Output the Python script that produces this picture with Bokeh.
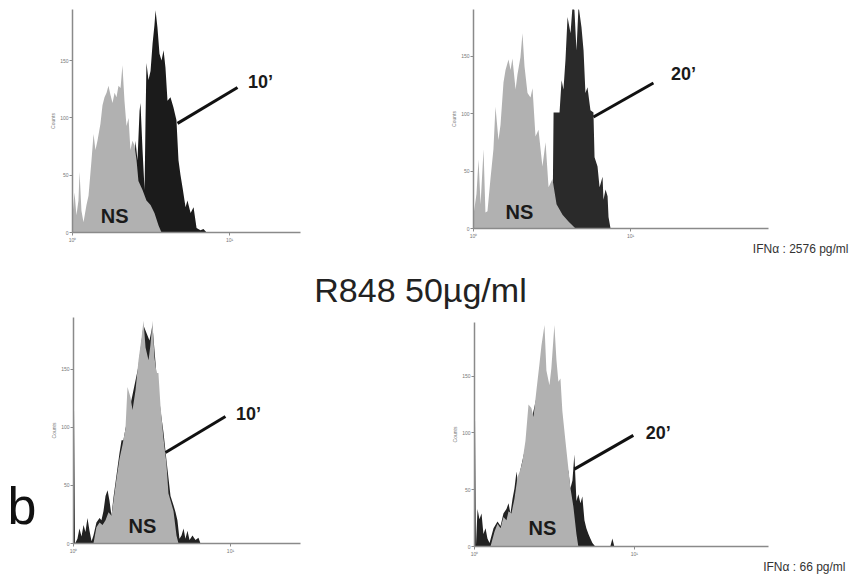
from bokeh.plotting import figure
from bokeh.layouts import column, row
from bokeh.models import FixedTicker, Label, ColumnDataSource
from bokeh.embed import file_html
from bokeh.resources import INLINE

# ---------------- data (x in log10 units of fluorescence, y = cell counts) ----------------
ns1_x = [0.000, 0.013, 0.025, 0.038, 0.045, 0.057, 0.070, 0.089, 0.102, 0.121, 0.134, 0.146, 0.159,
         0.178, 0.191, 0.204, 0.217, 0.229, 0.242, 0.255, 0.268, 0.280, 0.293, 0.306, 0.318, 0.331,
         0.344, 0.357, 0.369, 0.382, 0.395, 0.408, 0.420, 0.446, 0.471, 0.497, 0.522, 0.548, 0.567]
ns1_y = [15, 35, 15, 28, 53, 19, 9, 24, 32, 63, 86, 72, 80,
         95, 111, 118, 122, 128, 120, 113, 122, 118, 128, 126, 146, 115,
         93, 100, 72, 80, 76, 63, 45, 37, 28, 24, 17, 6, 0]
st1_x = [0.369, 0.382, 0.389, 0.401, 0.414, 0.427, 0.433, 0.446, 0.459, 0.465, 0.471, 0.484, 0.497,
         0.510, 0.522, 0.529, 0.541, 0.554, 0.567, 0.580, 0.592, 0.605, 0.624, 0.643, 0.662, 0.675,
         0.688, 0.701, 0.720, 0.732, 0.752, 0.771, 0.790, 0.815, 0.834, 0.854]
st1_y = [0, 28, 48, 80, 63, 106, 113, 72, 37, 98, 148, 133, 141,
         165, 181, 194, 179, 156, 150, 159, 144, 115, 118, 109, 98, 63,
         50, 39, 22, 28, 17, 22, 4, 2, 3, 0]

ns2_x = [0.000, 0.019, 0.032, 0.045, 0.064, 0.076, 0.089, 0.108, 0.127, 0.140, 0.159, 0.172, 0.191,
         0.204, 0.223, 0.236, 0.248, 0.268, 0.280, 0.299, 0.312, 0.325, 0.344, 0.363, 0.376, 0.395,
         0.414, 0.439, 0.459, 0.478, 0.503, 0.529, 0.567, 0.605, 0.650]
ns2_y = [12, 30, 60, 21, 69, 14, 15, 43, 69, 106, 77, 90, 127,
         138, 147, 138, 148, 121, 134, 149, 170, 141, 118, 114, 122, 80,
         86, 54, 75, 36, 43, 21, 12, 6, 0]
st2_x = [0.503, 0.510, 0.548, 0.561, 0.573, 0.586, 0.599, 0.618, 0.631, 0.643, 0.656, 0.669, 0.688,
         0.701, 0.713, 0.726, 0.745, 0.764, 0.771, 0.790, 0.803, 0.822, 0.828, 0.841, 0.854, 0.860, 0.873]
st2_y = [0, 101, 101, 129, 121, 147, 184, 170, 194, 190, 155, 194, 175,
         155, 118, 123, 103, 101, 62, 54, 36, 45, 25, 34, 28, 10, 0]

ns3_x = [0.127, 0.146, 0.166, 0.185, 0.204, 0.223, 0.242, 0.255, 0.274, 0.293, 0.312, 0.331, 0.344,
         0.363, 0.376, 0.395, 0.414, 0.433, 0.446, 0.459, 0.478, 0.490, 0.503, 0.516, 0.529, 0.541,
         0.554, 0.573, 0.592, 0.605, 0.618, 0.637, 0.656, 0.669]
ns3_y = [0, 14, 18, 16, 20, 27, 24, 37, 56, 73, 85, 99, 135,
         126, 115, 132, 158, 177, 192, 169, 158, 171, 192, 160, 147, 147,
         119, 91, 69, 43, 37, 28, 7, 0]
st3_x = [0.000, 0.010, 0.025, 0.038, 0.051, 0.064, 0.076, 0.089, 0.102, 0.115, 0.127, 0.146, 0.166,
         0.178, 0.191, 0.204, 0.217, 0.229, 0.242, 0.255, 0.274, 0.293, 0.306, 0.318, 0.331, 0.414,
         0.446, 0.484, 0.503, 0.529, 0.554, 0.573, 0.592, 0.618, 0.637, 0.650, 0.662, 0.675, 0.688,
         0.701, 0.713, 0.726, 0.739, 0.758, 0.777, 0.796, 0.809]
st3_y = [175, 0, 4, 13, 6, 16, 10, 22, 11, 2, 7, 18, 22,
         20, 28, 41, 46, 37, 24, 40, 59, 78, 89, 89, 99, 153,
         188, 175, 188, 145, 115, 96, 72, 41, 33, 27, 20, 4, 7,
         13, 4, 11, 3, 7, 3, 5, 0]

ns4_x = [0.100, 0.125, 0.144, 0.163, 0.181, 0.200, 0.213, 0.231, 0.250, 0.269, 0.288, 0.300, 0.319,
         0.338, 0.356, 0.369, 0.388, 0.406, 0.419, 0.438, 0.450, 0.469, 0.481, 0.500, 0.513, 0.525,
         0.538, 0.550, 0.569, 0.588, 0.600, 0.619, 0.638, 0.650]
ns4_y = [0, 13, 20, 16, 26, 23, 31, 29, 42, 61, 68, 75, 93,
         125, 122, 114, 138, 160, 177, 195, 155, 142, 157, 195, 164, 145,
         148, 119, 93, 68, 52, 35, 11, 0]
st4_x = [0.000, 0.009, 0.019, 0.031, 0.044, 0.056, 0.069, 0.081, 0.094, 0.119, 0.144, 0.163, 0.181,
         0.200, 0.213, 0.225, 0.238, 0.250, 0.263, 0.275, 0.288, 0.413, 0.475, 0.550, 0.575, 0.588,
         0.600, 0.613, 0.625, 0.638, 0.650, 0.663, 0.675, 0.688, 0.700, 0.713, 0.725, 0.738, 0.756,
         0.850, 0.863, 0.875]
st4_y = [177, 0, 33, 24, 29, 11, 16, 7, 3, 16, 22, 18, 29,
         33, 38, 29, 42, 51, 66, 51, 68, 147, 138, 112, 73, 66,
         51, 58, 81, 40, 46, 38, 44, 23, 16, 11, 7, 3, 0,
         0, 7, 0]

x_ticks = [0, 1]
x_tick_labels = {0: "10\u2070", 1: "10\u00b9"}
y_ticks = [0, 50, 100, 150]

GRAY = "#b1b1b1"
FONT = "Liberation Sans"


def panel(w, h, left, right, top, bottom, xmax, ymax):
    p = figure(width=w, height=h, x_range=(0, xmax), y_range=(0, ymax),
               min_border_left=left, min_border_right=right,
               min_border_top=top, min_border_bottom=bottom,
               output_backend="svg", toolbar_location=None)
    p.frame_align = False
    p.outline_line_color = None
    p.grid.grid_line_color = None
    p.xaxis.ticker = FixedTicker(ticks=x_ticks)
    p.xaxis.major_label_overrides = x_tick_labels
    p.yaxis.ticker = FixedTicker(ticks=y_ticks)
    p.yaxis.axis_label = "Counts"
    p.yaxis.axis_label_text_font_size = "5px"
    p.yaxis.axis_label_text_font_style = "normal"
    p.yaxis.axis_label_standoff = 1
    for ax in (p.xaxis, p.yaxis):
        ax.axis_line_color = "#8a8a8a"
        ax.axis_line_width = 1.5
        ax.major_tick_line_color = "#8a8a8a"
        ax.major_tick_out = 3
        ax.major_tick_in = 0
        ax.minor_tick_line_color = None
        ax.major_label_text_font_size = "5px"
        ax.major_label_text_color = "#777777"
        ax.major_label_standoff = 1
        ax.axis_label_text_color = "#777777"
    return p


def blank(w, h):
    p = figure(width=w, height=h, x_range=(0, w), y_range=(0, h), min_border=0,
               x_axis_location=None, y_axis_location=None, output_backend="svg",
               toolbar_location=None)
    p.frame_align = False
    p.outline_line_color = None
    p.grid.grid_line_color = None
    return p


def hist(p, xs, ys, color):
    src = ColumnDataSource(dict(x=xs, y=ys))
    p.varea(x="x", y1=0, y2="y", source=src, fill_color=color)


def note(p, x, y, txt, size, bold=True, align="center", baseline="middle", color="#1a1a1a"):
    p.add_layout(Label(x=x, y=y, text=txt, text_font=FONT, text_font_size=size,
                       text_font_style="bold" if bold else "normal",
                       text_align=align, text_baseline=baseline, text_color=color))


def pointer(p, xs, ys):
    p.line(xs, ys, line_color="#111111", line_width=3)


# ---- top left ----
p1 = panel(428, 266, 72, 128, 9, 34, 1.452, 194.6)
hist(p1, st1_x, st1_y, "#1b1b1b")
hist(p1, ns1_x, ns1_y, GRAY)
pointer(p1, [0.669, 1.051], [95.2, 126.6])
note(p1, 1.197, 131, "10\u2019", "18px")
note(p1, 0.268, 14.8, "NS", "20px")

# ---- top right ----
p2 = panel(434, 241, 45, 94, 9, 12, 1.879, 190.6)
hist(p2, st2_x, st2_y, "#2a2a2a")
hist(p2, ns2_x, ns2_y, GRAY)
pointer(p2, [0.764, 1.146], [97.1, 126.6])
note(p2, 1.338, 134.4, "20\u2019", "18px")
note(p2, 0.293, 14.7, "NS", "20px")
pi1 = blank(434, 25)
note(pi1, 420, 18, "IFN\u03b1 : 2576 pg/ml", "12px", bold=False, align="right", color="#333333")

# ---- middle title ----
pm = blank(862, 44)
note(pm, 420, 21, "R848 50\u00b5g/ml", "34px", bold=False, color="#222222")

# ---- bottom left ----
pb = blank(44, 266)
note(pb, 7, 71, "b", "52px", bold=False, align="left", color="#111111")
p3 = panel(384, 266, 29, 128, 7, 33, 1.446, 194.8)
hist(p3, st3_x, st3_y, "#222222")
hist(p3, ns3_x, ns3_y, GRAY)
pointer(p3, [0.586, 0.968], [78.4, 109.5])
note(p3, 1.115, 111.2, "10\u2019", "18px")
note(p3, 0.439, 15.5, "NS", "20px")

# ---- bottom right ----
p4 = panel(434, 249, 46, 94, 12, 11, 1.84, 197.2)
hist(p4, st4_x, st4_y, "#222222")
hist(p4, ns4_x, ns4_y, GRAY)
pointer(p4, [0.625, 0.994], [68.1, 97.8])
note(p4, 1.15, 99.5, "20\u2019", "18px")
note(p4, 0.425, 16.6, "NS", "20px")
pi2 = blank(434, 17)
note(pi2, 417, 10, "IFN\u03b1 : 66 pg/ml", "12px", bold=False, align="right", color="#333333")

layout = column(row(p1, column(p2, pi1)), pm, row(pb, p3, column(p4, pi2)))
open("out.html", "w").write(file_html(layout, INLINE))
